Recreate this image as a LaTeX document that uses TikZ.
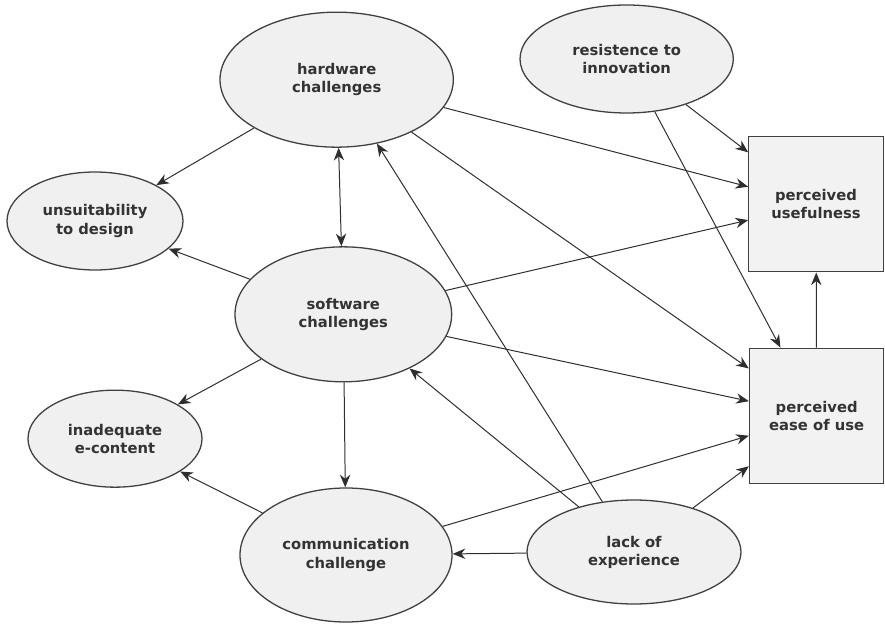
\documentclass[tikz,border=0pt]{standalone}
\usepackage{fontspec}
\setmainfont{DejaVu Sans}
\usetikzlibrary{shapes.geometric,arrows.meta}

\begin{document}
\begin{tikzpicture}[auto,thick,
  latent node/.style={ellipse,draw=black!75,fill=black!6,line width=1.1pt,inner sep=0pt,align=center,text=black!80,font=\fontsize{12.6}{15.4}\selectfont\bfseries},
  construct node/.style={rectangle,draw=black!75,fill=black!5,line width=1.1pt,inner sep=0pt,align=center,text=black!80,font=\fontsize{12.6}{15.4}\selectfont\bfseries,minimum width=4.03cm,minimum height=4.05cm}]
\tikzstyle{path line} = [draw=black!82,line width=0.85pt,-{Stealth[length=3.8mm,width=3.1mm]}]

\useasboundingbox (0,0) rectangle (26.55,18.72);

% latent variables
\node[latent node,minimum width=7.0cm,minimum height=4.05cm] (hardware) at (10.10,16.33) {hardware\\challenges};
\node[latent node,minimum width=6.4cm,minimum height=3.24cm] (resist) at (18.80,16.95) {resistence to\\innovation};
\node[latent node,minimum width=5.28cm,minimum height=2.94cm] (unsuit) at (2.85,12.09) {unsuitability\\to design};
\node[latent node,minimum width=6.5cm,minimum height=4.05cm] (software) at (10.30,9.29) {software\\challenges};
\node[latent node,minimum width=5.22cm,minimum height=2.91cm] (econtent) at (3.45,5.56) {inadequate\\e-content};
\node[latent node,minimum width=6.36cm,minimum height=4.02cm] (comm) at (10.38,2.07) {communication\\challenge};
\node[latent node,minimum width=6.42cm,minimum height=3.12cm] (lack) at (19.02,2.16) {lack of\\experience};

% TAM constructs
\node[construct node] (useful) at (24.48,12.59) {perceived\\usefulness};
\node[construct node] (ease) at (24.50,6.25) {perceived\\ease of use};

% paths
\draw[path line] (hardware) -- (unsuit);
\draw[path line,{Stealth[length=3.8mm,width=3.1mm]}-{Stealth[length=3.8mm,width=3.1mm]}] (hardware) -- (software);
\draw[path line] (hardware) -- (useful);
\draw[path line] (hardware) -- (ease);
\draw[path line] (resist) -- (useful);
\draw[path line] (resist) -- (ease);
\draw[path line] (software) -- (unsuit);
\draw[path line] (software) -- (econtent);
\draw[path line] (software) -- (comm);
\draw[path line] (software) -- (useful);
\draw[path line] (software) -- (ease);
\draw[path line] (comm) -- (econtent);
\draw[path line] (comm) -- (ease);
\draw[path line] (lack) -- (comm);
\draw[path line] (lack) -- (software);
\draw[path line] (lack) -- (hardware);
\draw[path line] (lack) -- (ease);
\draw[path line] (ease) -- (useful);

\end{tikzpicture}
\end{document}
